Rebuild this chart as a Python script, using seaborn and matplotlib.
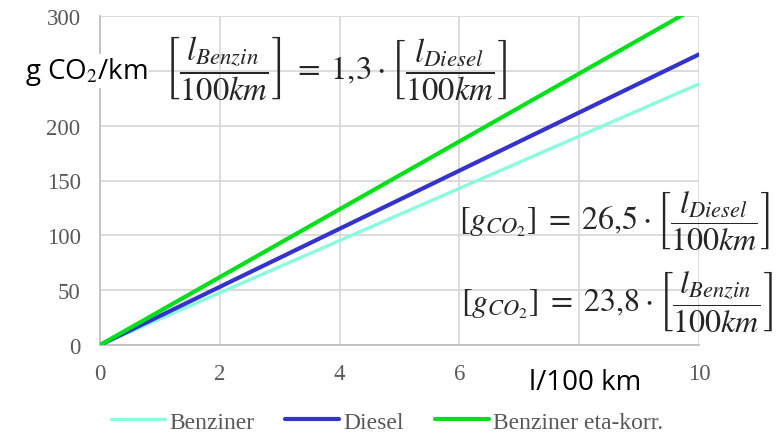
import matplotlib
matplotlib.use("Agg")
import matplotlib.pyplot as plt
import seaborn as sns
import pandas as pd
from matplotlib.lines import Line2D

# data
x_values = [0, 10]
benziner = [0, 238]
diesel = [0, 265]
benziner_eta = [0, 309.4]
series_names = ["Benziner", "Diesel", "Benziner eta-korr."]
x_ticks = [0, 2, 4, 6, 8, 10]
x_tick_labels = ["0", "2", "4", "6", "", "10"]
y_ticks = [0, 50, 100, 150, 200, 250, 300]
y_tick_labels = ["0", "50", "100", "150", "200", "", "300"]

df = pd.DataFrame({
    "x": x_values * 3,
    "y": benziner + diesel + benziner_eta,
    "serie": [series_names[0]] * 2 + [series_names[1]] * 2 + [series_names[2]] * 2,
})

sns.set_style("white")
plt.rcParams["mathtext.fontset"] = "stix"

fig = plt.figure(figsize=(7.78, 4.35), dpi=100)
ax = fig.add_axes([100 / 778, 1 - 346 / 435, 599 / 778, 329 / 435])

palette = {"Benziner": "#88FCDC", "Diesel": "#3434CC", "Benziner eta-korr.": "#00E01A"}
sizes = {"Benziner": 2.4, "Diesel": 3.0, "Benziner eta-korr.": 3.0}
sns.lineplot(data=df, x="x", y="y", hue="serie", palette=palette, size="serie",
             sizes=sizes, ax=ax, legend=False, zorder=3)

ax.set_xlim(0, 10)
ax.set_ylim(0, 300)
ax.set_xticks(x_ticks)
ax.set_yticks(y_ticks)
ax.set_xticklabels(x_tick_labels, fontfamily="Liberation Serif", fontsize=16.5, color="#595959")
ax.set_yticklabels(y_tick_labels, fontfamily="Liberation Serif", fontsize=16.5, color="#595959")
ax.tick_params(axis="x", length=0, pad=13)
ax.tick_params(axis="y", length=0, pad=14)
ax.grid(True, color="#D9D9D9", linewidth=1.3)
ax.set_axisbelow(True)
for s in ["top", "right"]:
    ax.spines[s].set_visible(False)
for s in ["left", "bottom"]:
    ax.spines[s].set_color("#BFBFBF")
    ax.spines[s].set_linewidth(1.3)
ax.set_xlabel("")
ax.set_ylabel("")

# axis titles
fig.text(25 / 778, 1 - 72 / 435, "g CO$_2$/km", fontfamily="Open Sans", fontsize=20,
         color="black", ha="left", va="center",
         bbox=dict(facecolor="white", edgecolor="none", pad=1))
fig.text(585 / 778, 1 - 383 / 435, "l/100 km", fontfamily="Open Sans", fontsize=20,
         color="black", ha="center", va="center",
         bbox=dict(facecolor="white", edgecolor="none", pad=1))

# equations
eq1 = r"$\left[\dfrac{l_{Benzin}}{100km}\right] \;=\; 1{,}3 \cdot \left[\dfrac{l_{Diesel}}{100km}\right]$"
eq2 = r"$\left[g_{CO_2}\right] \;=\; 26{,}5 \cdot \left[\dfrac{l_{Diesel}}{100km}\right]$"
eq3 = r"$\left[g_{CO_2}\right] \;=\; 23{,}8 \cdot \left[\dfrac{l_{Benzin}}{100km}\right]$"
fig.text(335 / 778, 1 - 69 / 435, eq1, fontsize=23.5, ha="center", va="center")
fig.text(614 / 778, 1 - 221 / 435, eq2, fontsize=23, ha="center", va="center")
fig.text(617 / 778, 1 - 302 / 435, eq3, fontsize=23, ha="center", va="center")

# legend
handles = [Line2D([0], [0], color=palette[n], linewidth=sizes[n]) for n in series_names]
leg = fig.legend(handles, series_names, loc="center", bbox_to_anchor=(387 / 778, 1 - 423 / 435),
                 ncol=3, frameon=False, handlelength=2.3, handletextpad=0.17, columnspacing=1.3,
                 prop={"family": "Liberation Serif", "size": 17})
for t in leg.get_texts():
    t.set_color("#595959")

fig.savefig("out.png", dpi=100)
